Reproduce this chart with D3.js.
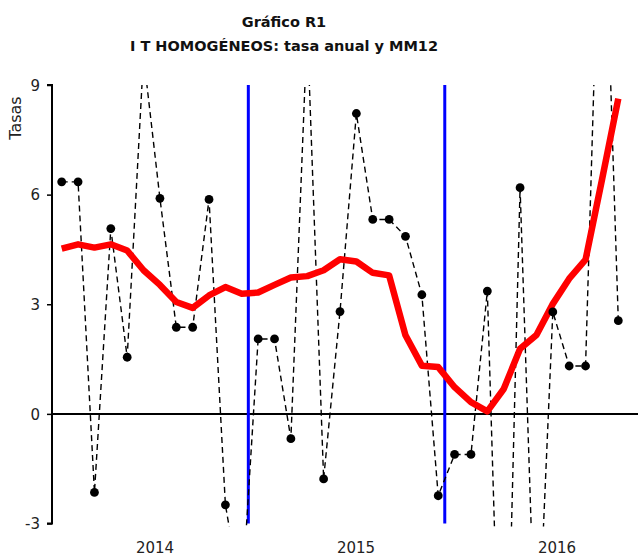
<!DOCTYPE html>
<html>
<head>
<meta charset="utf-8">
<script src="https://cdn.jsdelivr.net/npm/d3@7"></script>
<style>
  body { margin: 0; background: #fff; }
  text { font-family: "DejaVu Sans", Verdana, sans-serif; }
</style>
</head>
<body>
<svg id="chart" width="638" height="557"></svg>
<script>
// monthly series, Jan 2014 .. Nov 2016
const annualRate = [
  6.35, 6.35, -2.15, 5.07, 1.55, 9.8, 5.9, 2.37, 2.37, 5.87, -2.49, -5.1,
  2.05, 2.05, -0.68, 10.6, -1.78, 2.8, 8.22, 5.32, 5.32, 4.86, 3.26, -2.24,
  -1.11, -1.11, 3.36, -11.5, 6.19, -7.5, 2.79, 1.31, 1.31, 16.5, 2.55
];
const mm12 = [
  4.52, 4.64, 4.55, 4.64, 4.47, 3.93, 3.53, 3.06, 2.9, 3.24, 3.47, 3.29,
  3.32, 3.53, 3.73, 3.77, 3.93, 4.23, 4.17, 3.86, 3.79, 2.15, 1.32, 1.28,
  0.73, 0.32, 0.07, 0.68, 1.78, 2.16, 3.01, 3.7, 4.22, 6.4, 8.63
];
const yearLabels = ["2014", "2015", "2016"];
const yTicks = [-3, 0, 3, 6, 9];
const yearBreaks = [11.4, 23.4]; // blue markers between Dec and Jan

const svg = d3.select("#chart");
const W = 638;
const PLOT = { left: 52, top: 85, bottom: 523.5 };

const x = d3.scaleLinear().domain([0, 34]).range([61.7, 618.3]);
const y = d3.scaleLinear().domain([-3, 9]).range([PLOT.bottom, PLOT.top]);

// title
const title = svg.append("g").attr("font-weight", "bold").attr("font-size", 14.5)
  .attr("text-anchor", "middle").attr("fill", "#111");
title.append("text").attr("x", 284).attr("y", 27).text("Gráfico R1");
title.append("text").attr("x", 284).attr("y", 51).text("I T HOMOGÉNEOS:  tasa anual y MM12");

// y axis
const yAxis = d3.axisLeft(y).tickValues(yTicks).tickSize(5).tickPadding(7)
  .tickFormat(d => String(d));
svg.append("g")
  .attr("transform", `translate(${PLOT.left},0)`)
  .call(yAxis)
  .call(g => g.select(".domain").attr("d", `M-5,${PLOT.top}H0V${PLOT.bottom}H-5`)
    .attr("stroke-width", 2))
  .call(g => g.selectAll(".tick line").attr("stroke-width", 1.5))
  .call(g => g.selectAll(".tick text").attr("font-size", 15).attr("fill", "#222")
    .attr("font-family", "DejaVu Sans, sans-serif").attr("dy", "0.35em"));

svg.append("text")
  .attr("transform", `translate(21,118) rotate(-90)`)
  .attr("text-anchor", "middle")
  .attr("font-size", 16)
  .attr("fill", "#222")
  .text("Tasas");

// year labels
svg.append("g").selectAll("text")
  .data(yearLabels)
  .join("text")
  .attr("x", (d, i) => x(5.7 + 12.28 * i))
  .attr("y", 553)
  .attr("text-anchor", "middle")
  .attr("font-size", 15)
  .attr("fill", "#222")
  .text(d => d);

// clip for the series
svg.append("clipPath").attr("id", "clip")
  .append("rect").attr("x", PLOT.left).attr("y", PLOT.top)
  .attr("width", W - PLOT.left).attr("height", PLOT.bottom + 3 - PLOT.top);

const plot = svg.append("g").attr("clip-path", "url(#clip)");

// zero line
plot.append("line")
  .attr("x1", PLOT.left).attr("x2", W)
  .attr("y1", y(0)).attr("y2", y(0))
  .attr("stroke", "#000").attr("stroke-width", 2);

// blue year markers
plot.selectAll("line.break")
  .data(yearBreaks)
  .join("line")
  .attr("class", "break")
  .attr("x1", d => x(d)).attr("x2", d => x(d))
  .attr("y1", PLOT.top).attr("y2", PLOT.bottom)
  .attr("stroke", "#0000ff").attr("stroke-width", 3);

// annual rate: dashed line with dots
const line = d3.line().x((d, i) => x(i)).y(d => y(d));
plot.append("path")
  .datum(annualRate)
  .attr("d", line)
  .attr("fill", "none")
  .attr("stroke", "#000")
  .attr("stroke-width", 1.4)
  .attr("stroke-dasharray", "6,4");

// MM12: thick red line
plot.append("path")
  .datum(mm12)
  .attr("d", line)
  .attr("fill", "none")
  .attr("stroke", "#ff0000")
  .attr("stroke-width", 6.5)
  .attr("stroke-linejoin", "round");

plot.selectAll("circle")
  .data(annualRate)
  .join("circle")
  .attr("cx", (d, i) => x(i))
  .attr("cy", d => y(d))
  .attr("r", 4.4)
  .attr("fill", "#000");
</script>
</body>
</html>
